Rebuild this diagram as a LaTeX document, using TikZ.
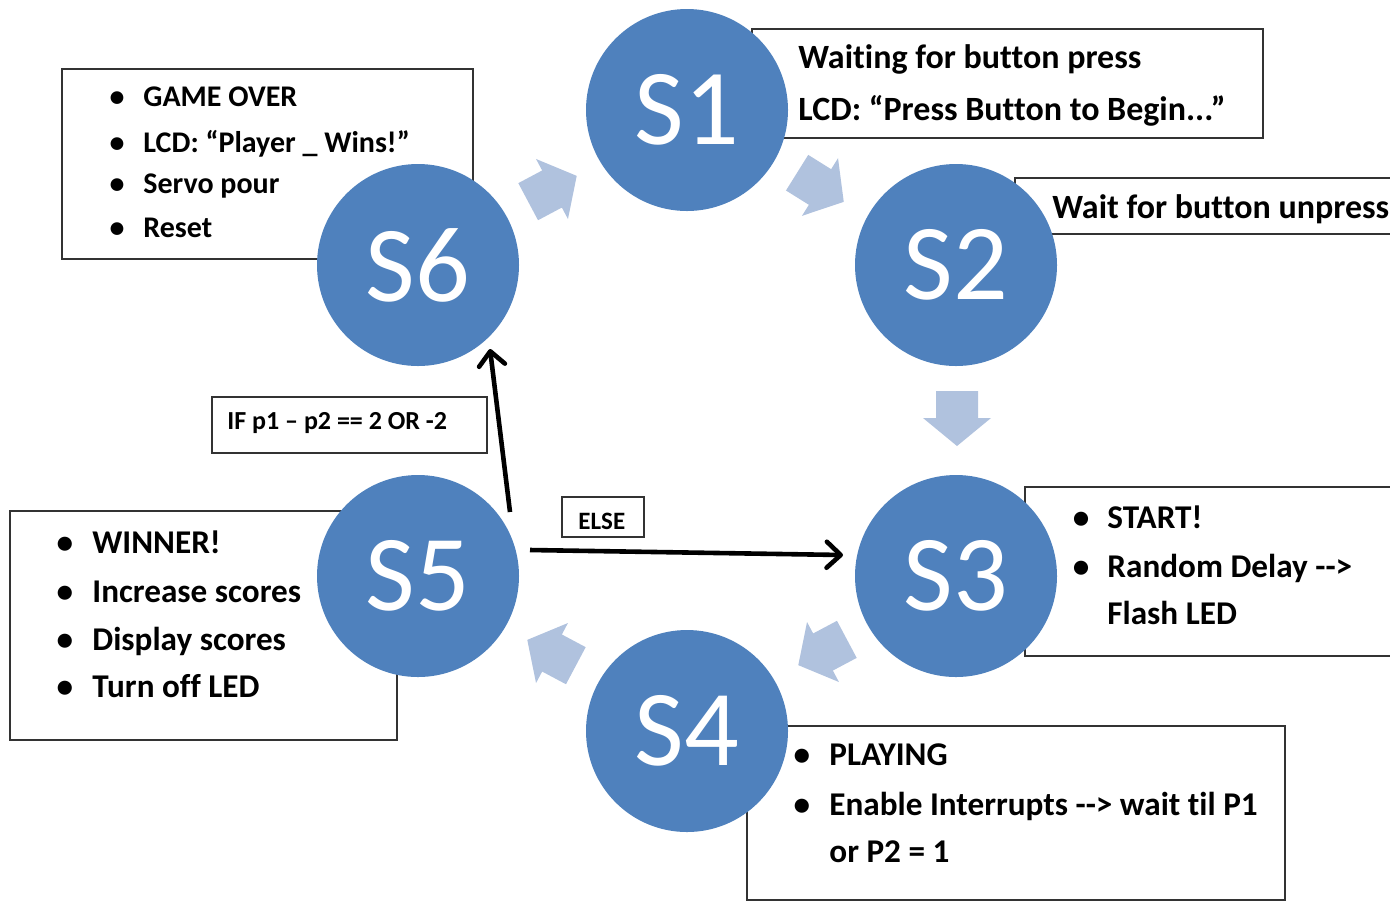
\documentclass[tikz,border=0pt]{standalone}
\usepackage{fontspec}
\setmainfont{Carlito}[RawFeature={-liga}]
\usetikzlibrary{arrows.meta,fit,calc}
\definecolor{stateblue}{HTML}{4F81BD}
\definecolor{flowblue}{HTML}{B0C2DE}
\definecolor{boxline}{HTML}{333333}
\newcommand{\blockarrow}[3]{%
  \fill[flowblue, shift={(#1)}, rotate=#2] (-27,-21) -- (0,-21) -- (0,-34) -- (28,0) -- (0,34) -- (0,21) -- (-27,21) -- cycle;}
\begin{document}
\begin{tikzpicture}[x=0.5pt,y=-0.5pt,
  state/.style={circle, fill=stateblue, minimum size=101pt, inner sep=0pt, text=white, font=\fontsize{54}{54}\selectfont},
  infobox/.style={draw=boxline, line width=0.8pt, inner sep=0pt},
  openbox/.style={draw=boxline, line width=0.8pt},
  txt/.style={anchor=base west, inner sep=0pt},
  bul/.style={anchor=base, inner sep=0pt},
  bigtxt/.style={font=\bfseries\fontsize{17}{17}\selectfont},
  midtxt/.style={font=\bfseries\fontsize{16.6}{16.6}\selectfont},
  smalltxt/.style={font=\bfseries\fontsize{15}{15}\selectfont},
  tinytxt/.style={font=\bfseries\fontsize{13}{13}\selectfont},
  elsetxt/.style={font=\bfseries\fontsize{12.5}{12.5}\selectfont},
  flow/.style={line width=2.3pt, -{Straight Barb[length=7pt,width=13pt,round]}}
]
\useasboundingbox (0,0) rectangle (1390,902);

% info boxes (behind circles)
\node[infobox, fit={(752,29) (1263,138)}] (b1) {};
\draw[openbox] (1392,178) -- (1015,178) -- (1015,234) -- (1392,234);
\draw[openbox] (1392,487) -- (1025,487) -- (1025,656) -- (1392,656);
\node[infobox, fit={(747,726) (1285,900)}] (b4) {};
\node[infobox, fit={(10,511) (397,740)}] (b5) {};
\node[infobox, fit={(62,69) (473,259)}] (b6) {};
\node[infobox, fit={(212,397) (487,453)}] (bif) {};
\node[infobox, fit={(562,497) (644,537)}] (belse) {};

% states
\node[state] (S1) at (687,110) {S1};
\node[state] (S2) at (956,265) {S2};
\node[state] (S3) at (956,576) {S3};
\node[state] (S4) at (687,731) {S4};
\node[state] (S5) at (418,576) {S5};
\node[state] (S6) at (418,265) {S6};

% block arrows
\blockarrow{552,189}{28}{a61}
\blockarrow{820,187}{-32}{a12}
\blockarrow{957,418}{-90}{a23}
\blockarrow{823,652}{-152}{a34}
\blockarrow{552,653}{152}{a45}

% S1 text
\node[txt, bigtxt] (t11) at (798,68) {Waiting for button press};
\node[txt, bigtxt] (t12) at (798,120) {LCD: “Press Button to Begin...”};
% S2 text
\node[txt, bigtxt] (t21) at (1052,218) {Wait for button unpress};
% S3 text
\node[bul, midtxt] (u31) at (1081,528) {•};
\node[txt, midtxt] (t31) at (1107,528) {START!};
\node[bul, midtxt] (u32) at (1081,577) {•};
\node[txt, midtxt] (t32) at (1107,577) {Random Delay -{}->};
\node[txt, midtxt] (t33) at (1107,624) {Flash LED};
% S4 text
\node[bul, midtxt] (u41) at (802,765) {•};
\node[txt, midtxt] (t41) at (829,765) {PLAYING};
\node[bul, midtxt] (u42) at (802,815) {•};
\node[txt, midtxt] (t42) at (829,815) {Enable Interrupts -{}-> wait til P1};
\node[txt, midtxt] (t43) at (829,862) {or P2 = 1};
% S5 text
\node[bul, midtxt] (u51) at (65,553) {•};
\node[txt, midtxt] (t51) at (92,553) {WINNER!};
\node[bul, midtxt] (u52) at (65,602) {•};
\node[txt, midtxt] (t52) at (92,602) {Increase scores};
\node[bul, midtxt] (u53) at (65,650) {•};
\node[txt, midtxt] (t53) at (92,650) {Display scores};
\node[bul, midtxt] (u54) at (65,697) {•};
\node[txt, midtxt] (t54) at (92,697) {Turn off LED};
% S6 text
\node[bul, smalltxt] (u61) at (117,106) {•};
\node[txt, smalltxt] (t61) at (143,106) {GAME OVER};
\node[bul, smalltxt] (u62) at (117,152) {•};
\node[txt, smalltxt] (t62) at (143,152) {LCD: “Player \_ Wins!”};
\node[bul, smalltxt] (u63) at (117,193) {•};
\node[txt, smalltxt] (t63) at (143,193) {Servo pour};
\node[bul, smalltxt] (u64) at (117,237) {•};
\node[txt, smalltxt] (t64) at (143,237) {Reset};
% condition labels
\node[txt, tinytxt] (tif) at (227,429) {IF p1 – p2 == 2 OR -2};
\node[txt, elsetxt] (telse) at (578,529) {ELSE};

% transitions
\draw[flow] ($(S5)+(92,-64)$) -- ($(S6)+(72,84)$);
\draw[flow] ($(S5)+(112,-26)$) -- ($(S3)+(-113,-21)$);
\end{tikzpicture}
\end{document}
